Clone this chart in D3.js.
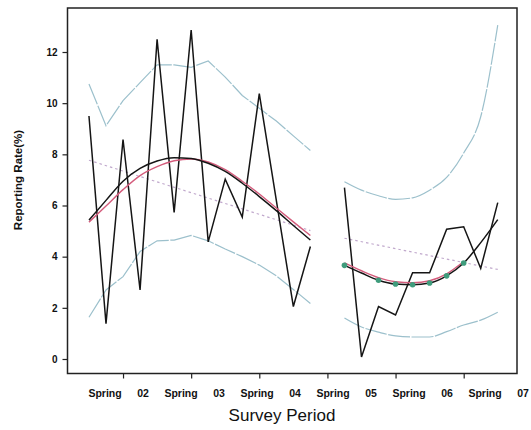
<!DOCTYPE html>
<html>
<head>
<meta charset="utf-8">
<script src="https://cdn.jsdelivr.net/npm/d3@7"></script>
<style>
  html, body { margin: 0; padding: 0; background: #fff; }
  svg { display: block; }
  text { font-family: "Liberation Sans", Arial, sans-serif; fill: #111; }
</style>
</head>
<body>
<svg id="chart" width="531" height="430"></svg>
<script>
// Quarterly reporting rate (%), two survey blocks
const quarters1 = [0, 1, 2, 3, 4, 5, 6, 7, 8, 9, 10, 11, 12, 13];
const observed1 = [9.5, 1.38, 8.58, 2.7, 12.5, 5.73, 12.86, 4.58, 7.03, 5.55, 10.37, 6.2, 2.05, 4.4];
const smooth1 = [5.43, 6.2, 6.95, 7.45, 7.74, 7.87, 7.84, 7.65, 7.33, 6.87, 6.35, 5.8, 5.22, 4.65];
const fitted1 = [5.35, 5.98, 6.62, 7.17, 7.52, 7.75, 7.82, 7.7, 7.4, 6.95, 6.45, 5.9, 5.36, 4.83];
const upper1 = [10.75, 9.12, 10.1, 10.8, 11.5, 11.5, 11.4, 11.65, 11.02, 10.3, 9.8, 9.3, 8.72, 8.15];
const lower1 = [1.63, 2.7, 3.22, 4.2, 4.62, 4.65, 4.83, 4.62, 4.3, 4.0, 3.67, 3.25, 2.72, 2.17];
const trend1 = [7.77, 5.02];

const quarters2 = [15, 16, 17, 18, 19, 20, 21, 22, 23, 24];
const observed2 = [6.7, 0.08, 2.05, 1.72, 3.37, 3.37, 5.07, 5.17, 3.54, 6.11];
const smooth2 = [3.66, 3.36, 3.08, 2.93, 2.9, 2.97, 3.25, 3.75, 4.55, 5.45];
const fitted2 = [3.76, 3.45, 3.18, 3.02, 2.98, 3.06, 3.33, 3.81];
const upper2 = [6.93, 6.6, 6.38, 6.24, 6.3, 6.6, 7.1, 8.05, 9.47, 13.05];
const lower2 = [1.6, 1.25, 1.05, 0.9, 0.86, 0.86, 1.07, 1.33, 1.52, 1.83];
const trend2 = [4.72, 3.5];
const markerQuarters = [15, 17, 18, 19, 20, 21, 22];

const yTicks = [0, 2, 4, 6, 8, 10, 12];
const tickQuarters = [2, 6, 10, 14, 18, 22];
const periodLabels = ["Spring", "02", "Spring", "03", "Spring", "04", "Spring", "05", "Spring", "06", "Spring", "07"];

const svg = d3.select("#chart");
const frame = { left: 67.5, right: 517, top: 8, bottom: 373.5 };

const x = d3.scaleLinear().domain([-1.26, 25.13]).range([frame.left, frame.right]);
const y = d3.scaleLinear().domain([-0.567, 13.72]).range([frame.bottom, frame.top]);
const labelPos = d3.scalePoint().domain(d3.range(periodLabels.length)).range([105, 523]);

const line = d3.line().x(d => x(d[0])).y(d => y(d[1]));
const curve = d3.line().x(d => x(d[0])).y(d => y(d[1])).curve(d3.curveMonotoneX);
const pairs = (qs, vs) => vs.map((v, k) => [qs[k], v]);

const g = svg.append("g");

function drawBlock(qs, observed, smooth, fitted, upper, lower, trend, bandPath) {
  // confidence band edges
  [upper, lower].forEach(vs => {
    g.append("path").attr("d", bandPath(pairs(qs, vs)))
      .attr("fill", "none").attr("stroke", "#9cc0cc").attr("stroke-width", 1.2)
      .attr("stroke-dasharray", "22,1.5");
  });
  // linear trend
  g.append("path").attr("d", line([[qs[0], trend[0]], [qs[qs.length - 1], trend[1]]]))
    .attr("fill", "none").attr("stroke", "#c0a8cc").attr("stroke-width", 1.2)
    .attr("stroke-dasharray", "2.5,3");
  // observed series
  g.append("path").attr("d", line(pairs(qs, observed)))
    .attr("fill", "none").attr("stroke", "#151515").attr("stroke-width", 1.5)
    .attr("stroke-linejoin", "miter");
  // fitted model (red) and smoothed series (black)
  g.append("path").attr("d", curve(pairs(qs, fitted)))
    .attr("fill", "none").attr("stroke", "#d45c7c").attr("stroke-width", 1.4);
  g.append("path").attr("d", curve(pairs(qs, smooth)))
    .attr("fill", "none").attr("stroke", "#151515").attr("stroke-width", 1.5);
}

drawBlock(quarters1, observed1, smooth1, fitted1, upper1, lower1, trend1, line);
drawBlock(quarters2, observed2, smooth2, fitted2, upper2, lower2, trend2, curve);

// markers on the second-block smooth
g.selectAll("circle.marker").data(markerQuarters).join("circle")
  .attr("class", "marker")
  .attr("cx", q => x(q))
  .attr("cy", q => y(smooth2[quarters2.indexOf(q)]))
  .attr("r", 2.8)
  .attr("fill", "#3f9c7c");

// plot frame
svg.append("rect")
  .attr("x", frame.left).attr("y", frame.top)
  .attr("width", frame.right - frame.left).attr("height", frame.bottom - frame.top)
  .attr("fill", "none").attr("stroke", "#222").attr("stroke-width", 1.5);

// y axis
const yAxis = svg.append("g").attr("transform", `translate(${frame.left},0)`)
  .call(d3.axisLeft(y).tickValues(yTicks).tickSize(5).tickPadding(5).tickFormat(d3.format("d")));
yAxis.select(".domain").remove();
yAxis.selectAll("line").attr("stroke", "#222").attr("stroke-width", 1.2);
yAxis.selectAll("text").style("font-size", "10px").style("font-weight", "bold")
  .style("font-family", "'Liberation Sans', Arial, sans-serif").attr("fill", "#111");

// x axis ticks
const xAxis = svg.append("g").attr("transform", `translate(0,${frame.bottom})`)
  .call(d3.axisBottom(x).tickValues(tickQuarters).tickSize(5).tickFormat(""));
xAxis.select(".domain").remove();
xAxis.selectAll("line").attr("stroke", "#222").attr("stroke-width", 1.2);

// period labels
svg.append("g").selectAll("text").data(periodLabels).join("text")
  .attr("x", (d, k) => labelPos(k))
  .attr("y", 397)
  .attr("text-anchor", "middle")
  .style("font-size", "10.5px").style("font-weight", "bold")
  .text(d => d);

// axis titles
svg.append("text").attr("x", 282).attr("y", 421)
  .attr("text-anchor", "middle").style("font-size", "17px").text("Survey Period");
svg.append("text")
  .attr("transform", "translate(22,180) rotate(-90)")
  .attr("text-anchor", "middle").style("font-size", "11.5px").style("font-weight", "bold")
  .text("Reporting Rate(%)");
</script>
</body>
</html>
